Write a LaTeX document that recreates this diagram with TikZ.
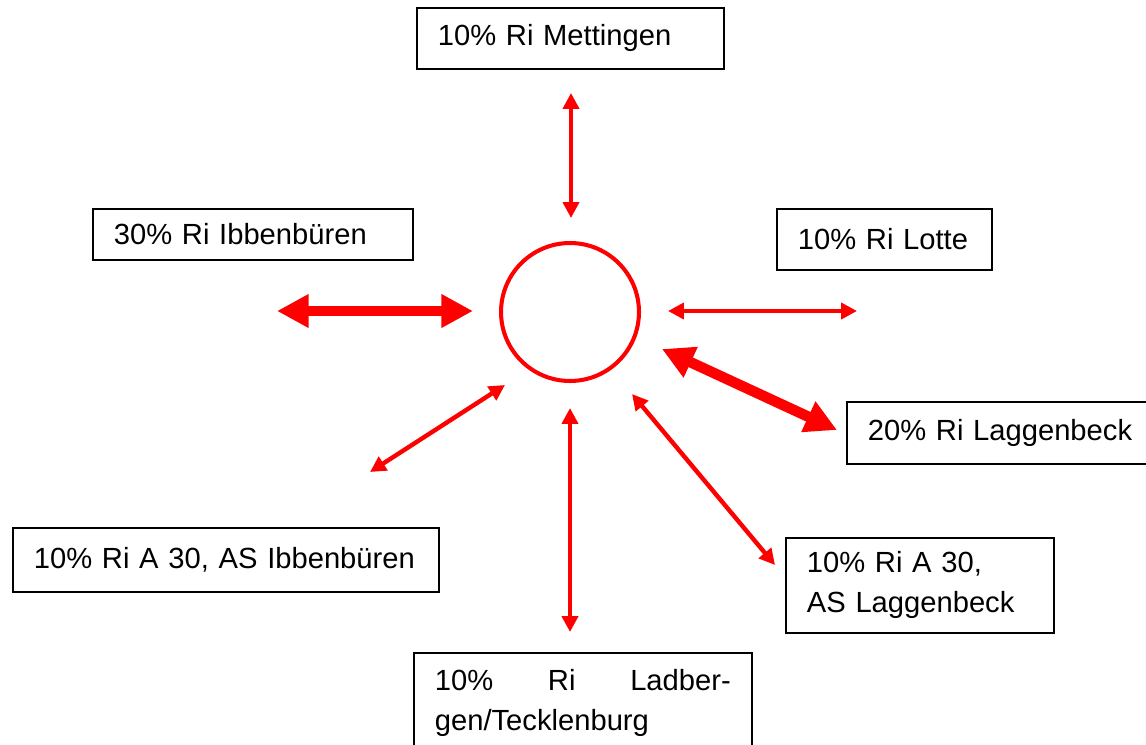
\documentclass[tikz,border=0pt]{standalone}
\usepackage{fontspec}
\setmainfont{Liberation Sans}
\setlength{\parindent}{0pt}
\usetikzlibrary{arrows.meta}

\begin{document}
\begin{tikzpicture}[x=0.02cm, y=-0.02cm,
    thinarrow/.style={{Triangle[length=9pt,width=9pt]}-{Triangle[length=9pt,width=9pt]}, draw=red, line width=2.5pt},
    thickarrow/.style={{Triangle[length=18pt,width=18pt]}-{Triangle[length=18pt,width=18pt]}, draw=red, line width=6pt}]
				\tikzstyle{every node}=[font=\fontsize{16.6}{22.7}\selectfont]
				\tikzstyle{dest}=[draw=black, line width=1pt, rectangle, anchor=north west, inner xsep=0.42cm, inner ysep=0pt, align=left]
				\clip (0,0) rectangle (1146,744);
				
				\node[circle, draw=red, line width=2.3pt, minimum size=2.76cm, inner sep=0pt] at (570, 312) (H) {};
				
				\node[dest, text width=5.3cm, minimum height=1.22cm] at (416, 7) (M) {10\% Ri Mettingen};
				\node[dest, text width=5.56cm, minimum height=1.02cm] at (92, 208) (Ib) {30\% Ri Ibbenbüren};
				\node[dest, text width=3.46cm, minimum height=1.22cm] at (776, 208) (Lo) {10\% Ri Lotte};
				\node[dest, text width=5.44cm, minimum height=1.24cm] at (846, 401) (La) {20\% Ri Laggenbeck};
				\node[dest, text width=7.68cm, minimum height=1.28cm] at (12, 527) (AIb) {10\% Ri A 30, AS Ibbenbüren};
				\node[dest, text width=4.52cm, minimum height=1.9cm] at (785, 537) (ALa) {10\% Ri A 30,\\AS Laggenbeck};
				\node[dest, text width=5.92cm, minimum height=2.0cm] at (413, 652) (Lt) {10\%\hfill Ri\hfill Ladber-\hspace*{0.16cm}\\gen/Tecklenburg};
				
				\coordinate (M1) at (571, 93);   \coordinate (M2) at (571, 218);
				\coordinate (Ib1) at (277, 311); \coordinate (Ib2) at (473, 311);
				\coordinate (Lo1) at (668, 311); \coordinate (Lo2) at (857, 311);
				\coordinate (La1) at (662, 349); \coordinate (La2) at (837, 430);
				\coordinate (AIb1) at (505, 385); \coordinate (AIb2) at (370, 472);
				\coordinate (Lt1) at (570, 408); \coordinate (Lt2) at (570, 632);
				\coordinate (ALa1) at (632, 394); \coordinate (ALa2) at (775, 565);
				
				\path
                (M1) edge[thinarrow] (M2)
        		(Ib1) edge[thickarrow] (Ib2)
        		(Lo1) edge[thinarrow] (Lo2)
                (La1) edge[thickarrow] (La2)
        		(AIb1) edge[thinarrow] (AIb2)
        		(Lt1) edge[thinarrow] (Lt2)
        		(ALa1) edge[thinarrow] (ALa2);
		  \end{tikzpicture}
\end{document}
